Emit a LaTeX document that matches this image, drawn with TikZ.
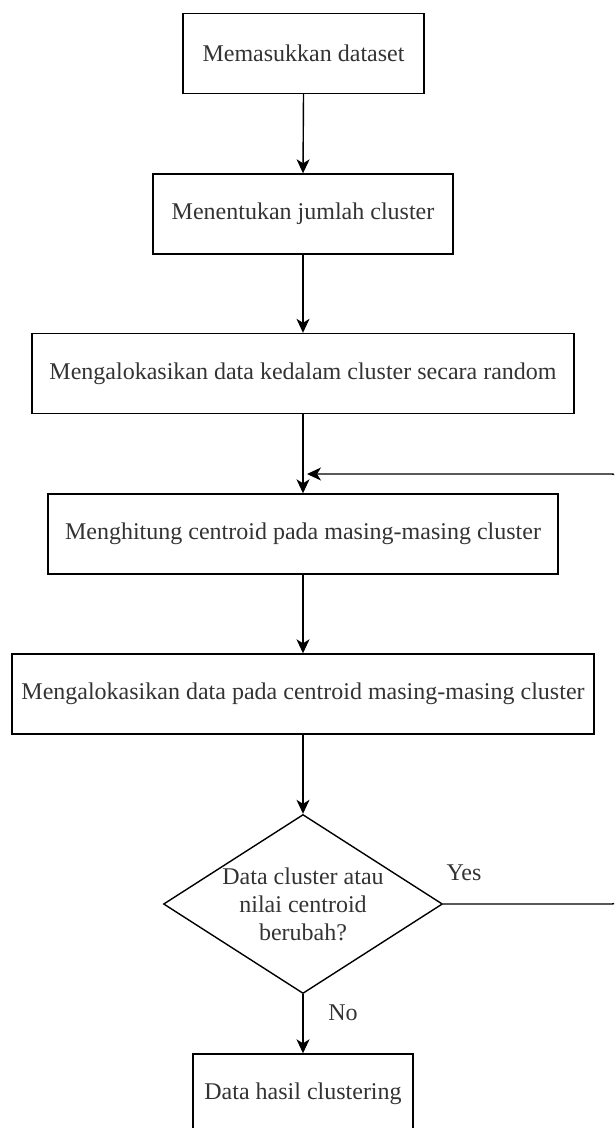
\documentclass[tikz,border=0pt]{standalone}
\usepackage{fontspec}
\setmainfont{Liberation Serif}
\usetikzlibrary{arrows.meta,shapes.geometric}
\begin{document}
\begin{tikzpicture}[x=1pt,y=-1pt,
  stepbox/.style={draw, line width=1.4pt, inner sep=0pt, minimum height=80pt,
    font=\fontsize{24}{28}\selectfont, text=black!80},
  decision/.style={draw, diamond, line width=1.4pt, inner sep=0pt,
    minimum width=279pt, minimum height=179pt},
  flow/.style={line width=1.4pt, -{Stealth[length=14pt,width=13pt,inset=4pt]}},
  lbl/.style={font=\fontsize{24}{28}\selectfont, text=black!80, align=center}]
\useasboundingbox (0,0) rectangle (614,1128);
\clip (0,0) rectangle (614,1128);

% process steps
\node[stepbox, minimum width=241pt] (b1) at (303.5,53.5) {Memasukkan dataset};
\node[stepbox, minimum width=300pt] (b2) at (303,214) {Menentukan jumlah cluster};
\node[stepbox, minimum width=542pt] (b3) at (303,373.5) {Mengalokasikan data kedalam cluster secara random};
\node[stepbox, minimum width=510pt] (b4) at (303,534) {Menghitung centroid pada masing-masing cluster};
\node[stepbox, minimum width=582pt] (b5) at (303,694) {Mengalokasikan data pada centroid masing-masing cluster};

% decision
\node[decision] (dia) at (303,904) {};
\node[lbl] (diatext) at (dia.center) {Data cluster atau\\nilai centroid\\berubah?};

% result
\node[stepbox, minimum width=220pt] (b6) at (303,1094) {Data hasil clustering};

% main flow
\draw[flow] (b1.south) -- (b2.north);
\draw[flow] (b2.south) -- (b3.north);
\draw[flow] (b3.south) -- (b4.north);
\draw[flow] (b4.south) -- (b5.north);
\draw[flow] (b5.south) -- (dia.north);
\draw[flow] (dia.south) -- (b6.north);

% loop back when the clusters still change
\coordinate (loopbot) at (618,904);
\coordinate (looptop) at (618,474);
\coordinate (entry) at (307,474);
\draw[flow, rounded corners=6pt] (dia.east) -- (loopbot) -- (looptop) -- (entry);

% branch labels
\node[lbl] (yes) at (464,873) {Yes};
\node[lbl] (no) at (343,1013) {No};
\end{tikzpicture}
\end{document}
